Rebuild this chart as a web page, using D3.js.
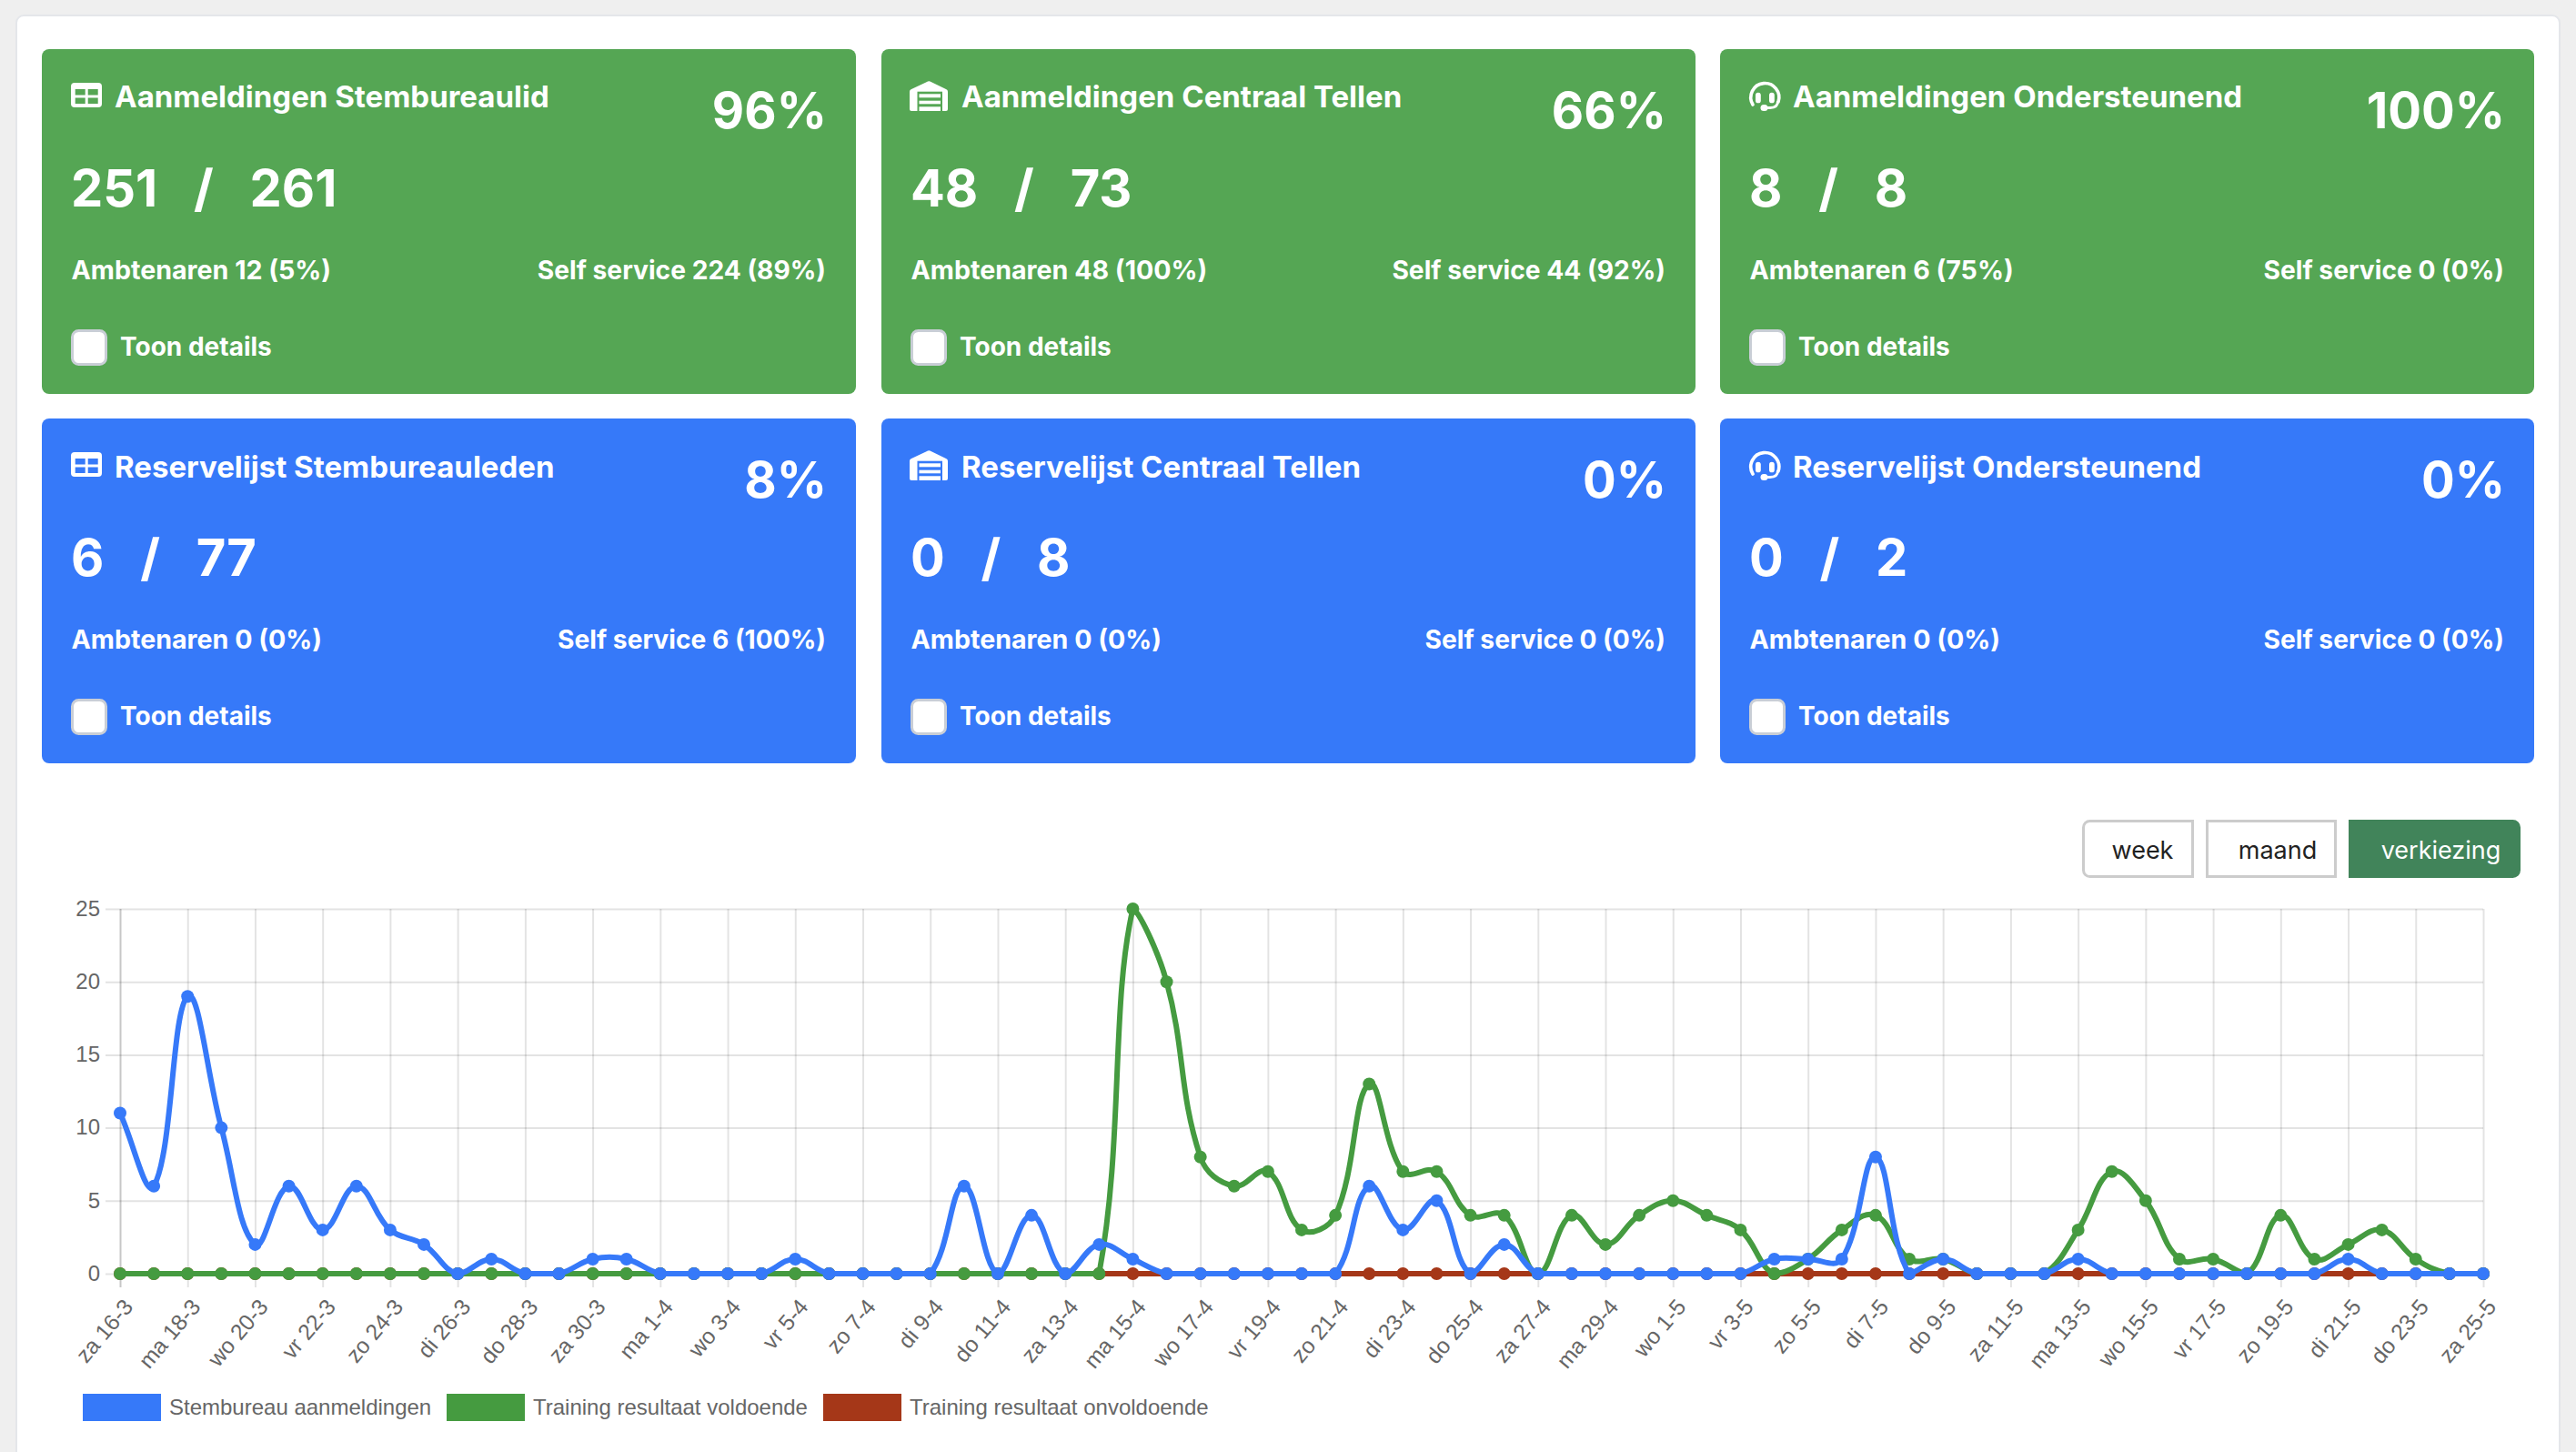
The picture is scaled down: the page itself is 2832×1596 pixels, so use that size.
<!DOCTYPE html>
<html><head><meta charset="utf-8">
<script src="https://cdnjs.cloudflare.com/ajax/libs/d3/7.8.5/d3.min.js"></script>
<style>
html,body{margin:0;padding:0;background:#efefef;overflow:hidden}
svg{display:block}
.card text{font-family:Inter,sans-serif;fill:#fff;white-space:pre}
.axis text,.legend text{font-family:"Liberation Sans",Arial,sans-serif;fill:#666;font-size:24px}
.btn text{font-family:Inter,sans-serif;font-size:27px}
</style></head><body>
<script>
// ---- data ----
const days = ["za 16-3","zo 17-3","ma 18-3","di 19-3","wo 20-3","do 21-3","vr 22-3","za 23-3","zo 24-3","ma 25-3","di 26-3","wo 27-3","do 28-3","vr 29-3","za 30-3","zo 31-3","ma 1-4","di 2-4","wo 3-4","do 4-4","vr 5-4","za 6-4","zo 7-4","ma 8-4","di 9-4","wo 10-4","do 11-4","vr 12-4","za 13-4","zo 14-4","ma 15-4","di 16-4","wo 17-4","do 18-4","vr 19-4","za 20-4","zo 21-4","ma 22-4","di 23-4","wo 24-4","do 25-4","vr 26-4","za 27-4","zo 28-4","ma 29-4","di 30-4","wo 1-5","do 2-5","vr 3-5","za 4-5","zo 5-5","ma 6-5","di 7-5","wo 8-5","do 9-5","vr 10-5","za 11-5","zo 12-5","ma 13-5","di 14-5","wo 15-5","do 16-5","vr 17-5","za 18-5","zo 19-5","ma 20-5","di 21-5","wo 22-5","do 23-5","vr 24-5","za 25-5"];
const aanmeldingen = [11,6,19,10,2,6,3,6,3,2,0,1,0,0,1,1,0,0,0,0,1,0,0,0,0,6,0,4,0,2,1,0,0,0,0,0,0,6,3,5,0,2,0,0,0,0,0,0,0,1,1,1,8,0,1,0,0,0,1,0,0,0,0,0,0,0,1,0,0,0,0];
const voldoende    = [0,0,0,0,0,0,0,0,0,0,0,0,0,0,0,0,0,0,0,0,0,0,0,0,0,0,0,0,0,0,25,20,8,6,7,3,4,13,7,7,4,4,0,4,2,4,5,4,3,0,1,3,4,1,1,0,0,0,3,7,5,1,1,0,4,1,2,3,1,0,0];
const onvoldoende  = [0,0,0,0,0,0,0,0,0,0,0,0,0,0,0,0,0,0,0,0,0,0,0,0,0,0,0,0,0,0,0,0,0,0,0,0,0,0,0,0,0,0,0,0,0,0,0,0,0,0,0,0,0,0,0,0,0,0,0,0,0,0,0,0,0,0,0,0,0,0,0];
const yTicks = [0,5,10,15,20,25];
const legendLabels = ["Stembureau aanmeldingen","Training resultaat voldoende","Training resultaat onvoldoende"];
const cardTitles = ["Aanmeldingen Stembureaulid","Aanmeldingen Centraal Tellen","Aanmeldingen Ondersteunend","Reservelijst Stembureauleden","Reservelijst Centraal Tellen","Reservelijst Ondersteunend"];
const cardPct = ["96%","66%","100%","8%","0%","0%"];
const cardCount = ["251   /   261","48   /   73","8   /   8","6   /   77","0   /   8","0   /   2"];
const cardLeft = ["Ambtenaren 12 (5%)","Ambtenaren 48 (100%)","Ambtenaren 6 (75%)","Ambtenaren 0 (0%)","Ambtenaren 0 (0%)","Ambtenaren 0 (0%)"];
const cardRight = ["Self service 224 (89%)","Self service 44 (92%)","Self service 0 (0%)","Self service 6 (100%)","Self service 0 (0%)","Self service 0 (0%)"];
const buttons = ["week","maand","verkiezing"];

// ---- colours ----
const BLUE="#3679f9", GREEN="#459b40", RED="#a53718", CARDG="#55a654", BTN="#41845a";

const svg = d3.select("body").append("svg").attr("width",2832).attr("height",1596);
svg.append("rect").attr("x",18).attr("y",17).attr("width",2796).attr("height",1640).attr("rx",8)
  .attr("fill","#fff").attr("stroke","#e4e6ea").attr("stroke-width",2);

// ---- cards ----
const colX=[46,969,1891], rowY=[54,460], cw=895, ch=379;
function icon(g,k,bg){
  if(k===0){
    g.append("rect").attr("x",32).attr("y",37).attr("width",34).attr("height",27).attr("rx",4).attr("fill","#fff");
    [[36.7,44],[50.7,44],[36.7,53.5],[50.7,53.5]].forEach(p=>g.append("rect").attr("x",p[0]).attr("y",p[1]).attr("width",11).attr("height",6.5).attr("fill",bg));
  } else if(k===1){
    g.append("path").attr("d","M31 66V47a3 3 0 0 1 2-3L51 35.5a3 3 0 0 1 2.5 0L71 44a3 3 0 0 1 2 3V66a2 2 0 0 1-2 2H33a2 2 0 0 1-2-2Z").attr("fill","#fff");
    g.append("rect").attr("x",39.5).attr("y",46.7).attr("width",27.5).attr("height",21.3).attr("fill",bg);
    [[49.3,4],[56.7,3.6],[63.3,4.7]].forEach(b=>g.append("rect").attr("x",41.5).attr("y",b[0]).attr("width",23.5).attr("height",b[1]).attr("fill","#fff"));
  } else {
    g.append("path").attr("d","M36 61A15.5 15.5 0 1 1 64 58").attr("fill","none").attr("stroke","#fff").attr("stroke-width",3.6).attr("stroke-linecap","round");
    g.append("rect").attr("x",39).attr("y",47.7).attr("width",5.8).attr("height",11.6).attr("rx",2.9).attr("fill","#fff");
    g.append("rect").attr("x",54).attr("y",47.7).attr("width",5.8).attr("height",11.6).attr("rx",2.9).attr("fill","#fff");
    g.append("path").attr("d","M63.5 57Q63.5 64.5 55 64.5H48").attr("fill","none").attr("stroke","#fff").attr("stroke-width",2.8);
    g.append("rect").attr("x",44.5).attr("y",61).attr("width",8).attr("height",7).attr("rx",3.5).attr("fill","#fff");
  }
}
cardTitles.forEach((t,i)=>{
  const c=i%3,r=Math.floor(i/3),bg=r===0?CARDG:BLUE;
  const g=svg.append("g").attr("class","card").attr("transform",`translate(${colX[c]},${rowY[r]})`);
  g.append("rect").attr("width",cw).attr("height",ch).attr("rx",8).attr("fill",bg);
  icon(g,c,bg);
  const tx=[80,88,80][c];
  g.append("text").attr("x",tx).attr("y",64+r).attr("font-size",33).attr("font-weight",650).text(t);
  g.append("text").attr("x",863).attr("y",87).attr("text-anchor","end").attr("font-size",54.5).attr("font-weight",700).text(cardPct[i]);
  g.append("text").attr("x",32).attr("y",173).attr("font-size",56).attr("font-weight",700).text(cardCount[i]);
  g.append("text").attr("x",32.5).attr("y",253).attr("font-size",28.6).attr("font-weight",650).text(cardLeft[i]);
  g.append("text").attr("x",862).attr("y",253).attr("text-anchor","end").attr("font-size",28.2).attr("font-weight",650).text(cardRight[i]);
  g.append("rect").attr("x",33.5).attr("y",309.5).attr("width",37).attr("height",37).attr("rx",7).attr("fill","#fff").attr("stroke","#c9ced6").attr("stroke-width",3);
  g.append("text").attr("x",86).attr("y",337).attr("font-size",28).attr("font-weight",650).text("Toon details");
});

// ---- buttons ----
const btnX=[[2289,2412],[2425,2569],[2582,2771]];
buttons.forEach((b,i)=>{
  const [x0,x1]=btnX[i],y0=901,y1=965,r=7,on=i===2;
  const g=svg.append("g").attr("class","btn");
  const rl=i===0?r:0, rr=i===2?r:0;
  const d=`M${x0+rl+1.5} ${y0+1.5}H${x1-rr-1.5}${rr?`a${rr} ${rr} 0 0 1 ${rr} ${rr}`:""}V${y1-rr-1.5}${rr?`a${rr} ${rr} 0 0 1 -${rr} ${rr}`:""}H${x0+rl+1.5}${rl?`a${rl} ${rl} 0 0 1 -${rl} -${rl}`:""}V${y0+rl+1.5}${rl?`a${rl} ${rl} 0 0 1 ${rl} -${rl}`:""}Z`;
  g.append("path").attr("d",d).attr("fill",on?BTN:"#fff").attr("stroke",on?BTN:"#ccc").attr("stroke-width",3);
  g.append("text").attr("x",(x0+x1)/2+[5,7,7][i]).attr("y",944).attr("text-anchor","middle").attr("fill",on?"#fff":"#222").text(b);
});

// ---- chart ----
const L=132,R=2730,T=999,B=1400;
const x=d3.scalePoint().domain(d3.range(days.length)).range([L,R]);
const y=d3.scaleLinear().domain([0,25]).range([B,T]);

// Chart.js style spline (tension 0.4, capped to the chart area) as a D3 curve factory
function chartSpline(context){
  let pts;
  return {
    areaStart(){},areaEnd(){},
    lineStart(){pts=[];},
    point(a,b){pts.push([+a,+b]);},
    lineEnd(){
      const t=0.4,cl=(v,a,b)=>Math.max(a,Math.min(b,v));
      const cps=pts.map((p,i)=>{
        const p0=pts[i-1]||p,p2=pts[i+1]||p;
        const d01=Math.hypot(p[0]-p0[0],p[1]-p0[1]),d12=Math.hypot(p2[0]-p[0],p2[1]-p[1]);
        let s01=d01/(d01+d12),s12=d12/(d01+d12);
        if(isNaN(s01))s01=0; if(isNaN(s12))s12=0;
        const fa=t*s01,fb=t*s12;
        return {
          px:cl(p[0]-fa*(p2[0]-p0[0]),L,R),py:cl(p[1]-fa*(p2[1]-p0[1]),T,B),
          nx:cl(p[0]+fb*(p2[0]-p0[0]),L,R),ny:cl(p[1]+fb*(p2[1]-p0[1]),T,B)
        };
      });
      pts.forEach((p,i)=>{
        if(i===0) context.moveTo(p[0],p[1]);
        else context.bezierCurveTo(cps[i-1].nx,cps[i-1].ny,cps[i].px,cps[i].py,p[0],p[1]);
      });
    }
  };
}

// grid + axes
const yAxis=d3.axisLeft(y).tickValues(yTicks).tickSize(16).tickPadding(6);
const yg=svg.append("g").attr("class","axis").attr("transform",`translate(${L},0)`).call(yAxis);
yg.select(".domain").remove();
yg.selectAll(".tick line").attr("x1",-16).attr("x2",R-L).attr("stroke","rgba(0,0,0,0.11)").attr("stroke-width",2);
yg.selectAll(".tick text").attr("font-size",24).attr("dy","0.3em");

const shown=d3.range(0,days.length,2);
const xAxis=d3.axisBottom(x).tickValues(shown).tickFormat(i=>days[i]).tickSize(15);
const xg=svg.append("g").attr("class","axis").attr("transform",`translate(0,${B})`).call(xAxis);
xg.select(".domain").remove();
xg.selectAll(".tick line").attr("y1",T-B).attr("y2",15).attr("stroke",(d,i)=>i===0?"rgba(0,0,0,0.22)":"rgba(0,0,0,0.11)").attr("stroke-width",2);
xg.selectAll(".tick text").attr("text-anchor","end").attr("x",0).attr("y",0).attr("dy",0)
  .style("font-size","24.5px").attr("transform","translate(15,37) rotate(-50)");

// series, last drawn on top
const seriesList=[{v:onvoldoende,c:RED},{v:voldoende,c:GREEN},{v:aanmeldingen,c:BLUE}];
const line=d3.line().x((d,i)=>x(i)).y(d=>y(d)).curve(chartSpline);
seriesList.forEach(s=>{
  const g=svg.append("g");
  g.append("path").datum(s.v).attr("d",line).attr("fill","none").attr("stroke",s.c).attr("stroke-width",6);
  g.selectAll("circle").data(s.v).join("circle").attr("cx",(d,i)=>x(i)).attr("cy",d=>y(d)).attr("r",7).attr("fill",s.c);
});

// legend
const legX=[91,491,905], legC=[BLUE,GREEN,RED];
const lg=svg.append("g").attr("class","legend");
legendLabels.forEach((t,i)=>{
  lg.append("rect").attr("x",legX[i]).attr("y",1532).attr("width",86).attr("height",30).attr("fill",legC[i]);
  lg.append("text").attr("x",legX[i]+95).attr("y",1555).text(t);
});
</script>
</body></html>
